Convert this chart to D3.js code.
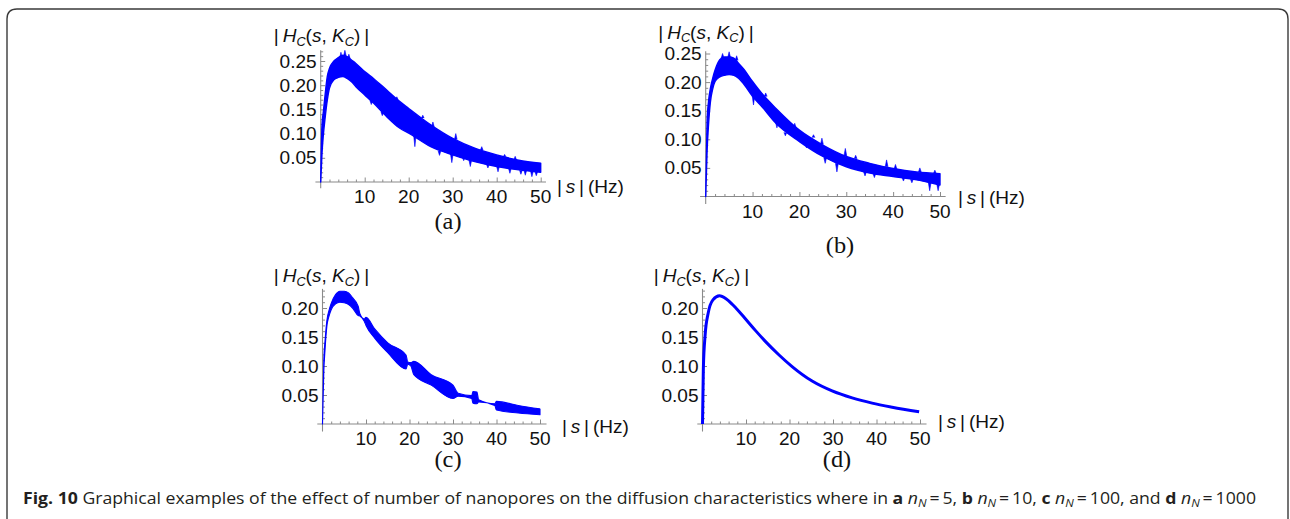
<!DOCTYPE html>
<html>
<head>
<meta charset="utf-8">
<script src="https://cdn.jsdelivr.net/npm/d3@7"></script>
<style>
body { margin: 0; background: #fff; }
svg { display: block; }
</style>
</head>
<body>
<script>
// values: |s| in Hz, |Hc| upper / lower edge of the noisy band
var freqA  = [0, 0.3, 0.6, 1, 1.5, 2, 3, 4, 5, 6, 7, 8, 10, 12, 15, 18, 20, 25, 30, 35, 40, 45, 50];
var upperA = [0, 0.118, 0.145, 0.180, 0.218, 0.235, 0.250, 0.257, 0.262, 0.259, 0.252, 0.245, 0.228, 0.214, 0.190, 0.166, 0.152, 0.118, 0.090, 0.070, 0.056, 0.045, 0.039];
var lowerA = [0, 0.060, 0.097, 0.132, 0.169, 0.194, 0.211, 0.216, 0.218, 0.214, 0.207, 0.197, 0.180, 0.163, 0.135, 0.111, 0.101, 0.073, 0.056, 0.042, 0.032, 0.025, 0.020];
// spikes: [s, base, tip]
var spikesA = [[4.6, 0.256, 0.268], [5.5, 0.260, 0.272], [6.4, 0.255, 0.264], [11.5, 0.168, 0.160], [14, 0.145, 0.137],
               [17.3, 0.170, 0.176], [21.4, 0.098, 0.073], [23.2, 0.132, 0.138], [25.5, 0.114, 0.124], [27, 0.064, 0.055],
               [29.8, 0.058, 0.040], [30.7, 0.088, 0.100], [32.5, 0.051, 0.044], [34, 0.045, 0.032], [36.6, 0.066, 0.073],
               [38, 0.036, 0.029], [40.3, 0.032, 0.021], [41.8, 0.052, 0.057], [43, 0.028, 0.018], [44.2, 0.046, 0.053],
               [45.5, 0.024, 0.016], [46.5, 0.024, 0.014], [48, 0.022, 0.011], [49, 0.021, 0.013]];

var freqB  = [0, 0.3, 0.6, 1, 1.5, 2, 3, 4, 5, 6, 7, 8, 10, 12, 15, 20, 25, 30, 35, 40, 45, 50];
var upperB = [0, 0.131, 0.166, 0.189, 0.207, 0.221, 0.239, 0.244, 0.244, 0.242, 0.233, 0.224, 0.201, 0.180, 0.154, 0.116, 0.090, 0.070, 0.058, 0.049, 0.043, 0.040];
var lowerB = [0, 0.080, 0.125, 0.165, 0.188, 0.201, 0.209, 0.212, 0.213, 0.212, 0.207, 0.198, 0.175, 0.157, 0.128, 0.096, 0.070, 0.052, 0.041, 0.035, 0.029, 0.020];
var spikesB = [[3.6, 0.242, 0.250], [5, 0.243, 0.253], [6.6, 0.238, 0.246], [10.2, 0.178, 0.160], [12.8, 0.175, 0.181],
               [15.2, 0.130, 0.120], [17, 0.112, 0.106], [19, 0.120, 0.128], [21.5, 0.093, 0.085], [23, 0.103, 0.108],
               [24.8, 0.091, 0.102], [25.5, 0.068, 0.058], [28, 0.058, 0.043], [29.8, 0.071, 0.084], [32, 0.066, 0.072],
               [34, 0.043, 0.036], [36, 0.040, 0.033], [38.6, 0.052, 0.064], [40.5, 0.048, 0.056], [42.2, 0.033, 0.027],
               [44, 0.030, 0.024], [45.7, 0.043, 0.050], [47.8, 0.025, 0.010], [48.9, 0.040, 0.046], [49.6, 0.022, 0.010]];

var freqC  = [0, 0.3, 0.6, 1, 1.5, 2, 3, 4, 5, 6, 7, 8.2, 8.6, 9.6, 10, 12, 15, 19.2, 19.6, 20.3, 21, 25, 30, 31.2, 34.3, 34.6, 35.5, 35.9, 39.6, 40, 45, 50];
var upperC = [0, 0.110, 0.145, 0.178, 0.196, 0.208, 0.223, 0.229, 0.229, 0.226, 0.217, 0.203, 0.190, 0.181, 0.184, 0.164, 0.140, 0.119, 0.107, 0.106, 0.108, 0.085, 0.067, 0.053, 0.049, 0.056, 0.055, 0.042, 0.035, 0.039, 0.032, 0.026];
var lowerC = [0, 0.090, 0.130, 0.168, 0.186, 0.197, 0.207, 0.210, 0.209, 0.206, 0.199, 0.187, 0.186, 0.177, 0.170, 0.148, 0.123, 0.095, 0.103, 0.100, 0.085, 0.067, 0.044, 0.048, 0.044, 0.036, 0.035, 0.038, 0.032, 0.024, 0.019, 0.016];
var spikesC = [];

var freqD  = [0, 0.2, 0.6, 1.3, 2.4, 3.9, 5.4, 6.9, 8.4, 9.9, 12.2, 14.5, 17.6, 20.6, 25.2, 29.8, 34.4, 39, 43.6, 49.8];
var valueD = [0, 0.096, 0.153, 0.191, 0.214, 0.221, 0.216, 0.206, 0.194, 0.181, 0.161, 0.142, 0.119, 0.099, 0.074, 0.057, 0.045, 0.036, 0.029, 0.021];

var xMajor = [10, 20, 30, 40, 50];
var xMinor = [2, 4, 6, 8, 12, 14, 16, 18, 22, 24, 26, 28, 32, 34, 36, 38, 42, 44, 46, 48];
var yMajorAB = [0.05, 0.10, 0.15, 0.20, 0.25];
var yMajorCD = [0.05, 0.10, 0.15, 0.20];
var panelTags = ["(a)", "(b)", "(c)", "(d)"];

var blue = "#0000ff";
var axisGrey = "#8a8a8a";
var sx = 1.06; // the figure is stretched a bit horizontally

var svg = d3.select("body").append("svg")
    .attr("width", 1290)
    .attr("height", 519);

// rounded frame round the figure
svg.append("path")
    .attr("d", "M7,530 L7,19 Q7,9 17,9 L1278,9 Q1288,9 1288,19 L1288,530")
    .attr("fill", "none")
    .attr("stroke", "#3a3a3a")
    .attr("stroke-width", 1.4);

function zipBand(freq, upper, lower) {
    return freq.map(function (s, i) { return {s: s, hi: upper[i], lo: lower[i]}; });
}

var panels = [
    {x0: 320.7, x50: 540.7, y0: 182, yRef: 61, vRef: 0.25, xEnd: 51.2, yTop: 0.272, yTicks: yMajorAB,
     yLab: [321.5, 42], xLab: [557, 193], tag: [448, 229], bandStroke: 1.4,
     band: zipBand(freqA, upperA, lowerA), spikes: spikesA},
    {x0: 705.7, x50: 940, y0: 196.5, yRef: 53.5, vRef: 0.25, xEnd: 51.2, yTop: 0.254, yTicks: yMajorAB,
     yLab: [706, 38.5], xLab: [958, 204], tag: [840, 253], bandStroke: 1.4,
     band: zipBand(freqB, upperB, lowerB), spikes: spikesB},
    {x0: 322.5, x50: 540, y0: 424, yRef: 308, vRef: 0.20, xEnd: 51.5, yTop: 0.233, yTicks: yMajorCD,
     yLab: [321.5, 282], xLab: [562, 433], tag: [448, 467], bandStroke: 1.1,
     band: zipBand(freqC, upperC, lowerC), spikes: spikesC},
    {x0: 702.5, x50: 920, y0: 424, yRef: 308, vRef: 0.20, xEnd: 51.5, yTop: 0.233, yTicks: yMajorCD,
     yLab: [701.5, 282], xLab: [938, 428], tag: [837, 467],
     line: freqD.map(function (s, i) { return {s: s, v: valueD[i]}; })}
];

function addText(g, x, y, anchor, size, family) {
    return g.append("text")
        .attr("transform", "translate(" + x + "," + y + ") scale(" + sx + ",1)")
        .attr("text-anchor", anchor)
        .style("font-family", family)
        .style("font-size", size + "px")
        .attr("fill", "#111");
}

panels.forEach(function (p, k) {
    var g = svg.append("g");
    var x = d3.scaleLinear().domain([0, 50]).range([p.x0, p.x50]);
    var y = d3.scaleLinear().domain([0, p.vRef]).range([p.y0, p.yRef]);

    // axis lines
    g.append("line")
        .attr("x1", x(-1.2)).attr("x2", x(p.xEnd))
        .attr("y1", y(0)).attr("y2", y(0))
        .attr("stroke", axisGrey).attr("stroke-width", 1.1);
    g.append("line")
        .attr("x1", x(0)).attr("x2", x(0))
        .attr("y1", y(-0.013)).attr("y2", y(p.yTop))
        .attr("stroke", axisGrey).attr("stroke-width", 1.1);

    // ticks pointing into the plot
    var minorY = d3.range(1, Math.floor(p.yTop * 100 + 1e-6) + 1)
        .map(function (i) { return i / 100; })
        .filter(function (v) { return Math.round(v * 100) % 5 !== 0; });
    var axes = [
        [d3.axisBottom(x).tickValues(xMajor).tickSize(-4.5), "translate(0," + y(0) + ")"],
        [d3.axisBottom(x).tickValues(xMinor).tickSize(-2.5), "translate(0," + y(0) + ")"],
        [d3.axisLeft(y).tickValues(p.yTicks).tickSize(-4.5), "translate(" + x(0) + ",0)"],
        [d3.axisLeft(y).tickValues(minorY).tickSize(-2.5), "translate(" + x(0) + ",0)"]
    ];
    axes.forEach(function (a) {
        var ag = g.append("g").attr("transform", a[1]).call(a[0].tickFormat(""));
        ag.select(".domain").remove();
        ag.selectAll("line").attr("stroke", axisGrey);
    });

    // tick labels
    xMajor.forEach(function (v) {
        addText(g, x(v), y(0) + 21, "middle", 18, "Liberation Sans").text(v);
    });
    p.yTicks.forEach(function (v) {
        addText(g, x(0) - 4, y(v) + 6.5, "end", 18, "Liberation Sans").text(d3.format(".2f")(v));
    });

    // data
    if (p.band) {
        var area = d3.area()
            .x(function (d) { return x(d.s); })
            .y0(function (d) { return y(d.lo); })
            .y1(function (d) { return y(d.hi); })
            .curve(d3.curveMonotoneX);
        g.append("path").datum(p.band)
            .attr("d", area)
            .attr("fill", blue)
            .attr("stroke", blue)
            .attr("stroke-width", p.bandStroke)
            .attr("stroke-linejoin", "round");
        var tri = d3.line().x(function (d) { return x(d[0]); }).y(function (d) { return y(d[1]); });
        g.selectAll(".spike").data(p.spikes).enter().append("path")
            .attr("d", function (d) { return tri([[d[0] - 0.3, d[1]], [d[0], d[2]], [d[0] + 0.3, d[1]]]); })
            .attr("fill", blue)
            .attr("stroke", blue)
            .attr("stroke-width", 0.6);
    } else {
        var line = d3.line()
            .x(function (d) { return x(d.s); })
            .y(function (d) { return y(d.v); })
            .curve(d3.curveMonotoneX);
        g.append("path").datum(p.line)
            .attr("d", line)
            .attr("fill", "none")
            .attr("stroke", blue)
            .attr("stroke-width", 3)
            .attr("stroke-linejoin", "round");
    }

    // axis labels |Hc(s, Kc)| and |s| (Hz)
    var yl = addText(g, p.yLab[0], p.yLab[1], "middle", 18, "Liberation Sans");
    yl.append("tspan").text("|\u2009");
    yl.append("tspan").style("font-style", "italic").text("H");
    yl.append("tspan").style("font-style", "italic").style("font-size", "12px").attr("dy", 3.5).text("C");
    yl.append("tspan").attr("dy", -3.5).text("(");
    yl.append("tspan").style("font-style", "italic").text("s");
    yl.append("tspan").text(", ");
    yl.append("tspan").style("font-style", "italic").text("K");
    yl.append("tspan").style("font-style", "italic").style("font-size", "12px").attr("dy", 3.5).text("C");
    yl.append("tspan").attr("dy", -3.5).text(")\u2009|");

    var xl = addText(g, p.xLab[0], p.xLab[1], "start", 18, "Liberation Sans");
    xl.append("tspan").text("|\u2009");
    xl.append("tspan").style("font-style", "italic").text("s");
    xl.append("tspan").text("\u2009|\u2009(Hz)");

    addText(g, p.tag[0], p.tag[1], "middle", 23, "Liberation Serif").text(panelTags[k]);
});

// caption
var captionParts = [
    {t: "Fig. 10", b: 1}, {t: " Graphical examples of the effect of number of nanopores on the diffusion characteristics where in "},
    {t: "a", b: 1}, {t: " "}, {t: "n", i: 1}, {t: "N", i: 1, sub: 1}, {t: "\u2009=\u20095, "},
    {t: "b", b: 1}, {t: " "}, {t: "n", i: 1}, {t: "N", i: 1, sub: 1}, {t: "\u2009=\u200910, "},
    {t: "c", b: 1}, {t: " "}, {t: "n", i: 1}, {t: "N", i: 1, sub: 1}, {t: "\u2009=\u2009100, and "},
    {t: "d", b: 1}, {t: " "}, {t: "n", i: 1}, {t: "N", i: 1, sub: 1}, {t: "\u2009=\u20091000"}
];
var cap = svg.append("text")
    .attr("x", 23).attr("y", 504)
    .attr("textLength", 1233)
    .attr("lengthAdjust", "spacingAndGlyphs")
    .style("font-family", "Open Sans")
    .style("font-size", "16px")
    .attr("fill", "#231f20");
var shifted = false;
captionParts.forEach(function (c) {
    var ts = cap.append("tspan").text(c.t);
    if (c.b) ts.style("font-weight", "bold");
    if (c.i) ts.style("font-style", "italic");
    if (c.sub) { ts.style("font-size", "11px").attr("dy", 3); shifted = true; }
    else if (shifted) { ts.attr("dy", -3); shifted = false; }
});
</script>
</body>
</html>
